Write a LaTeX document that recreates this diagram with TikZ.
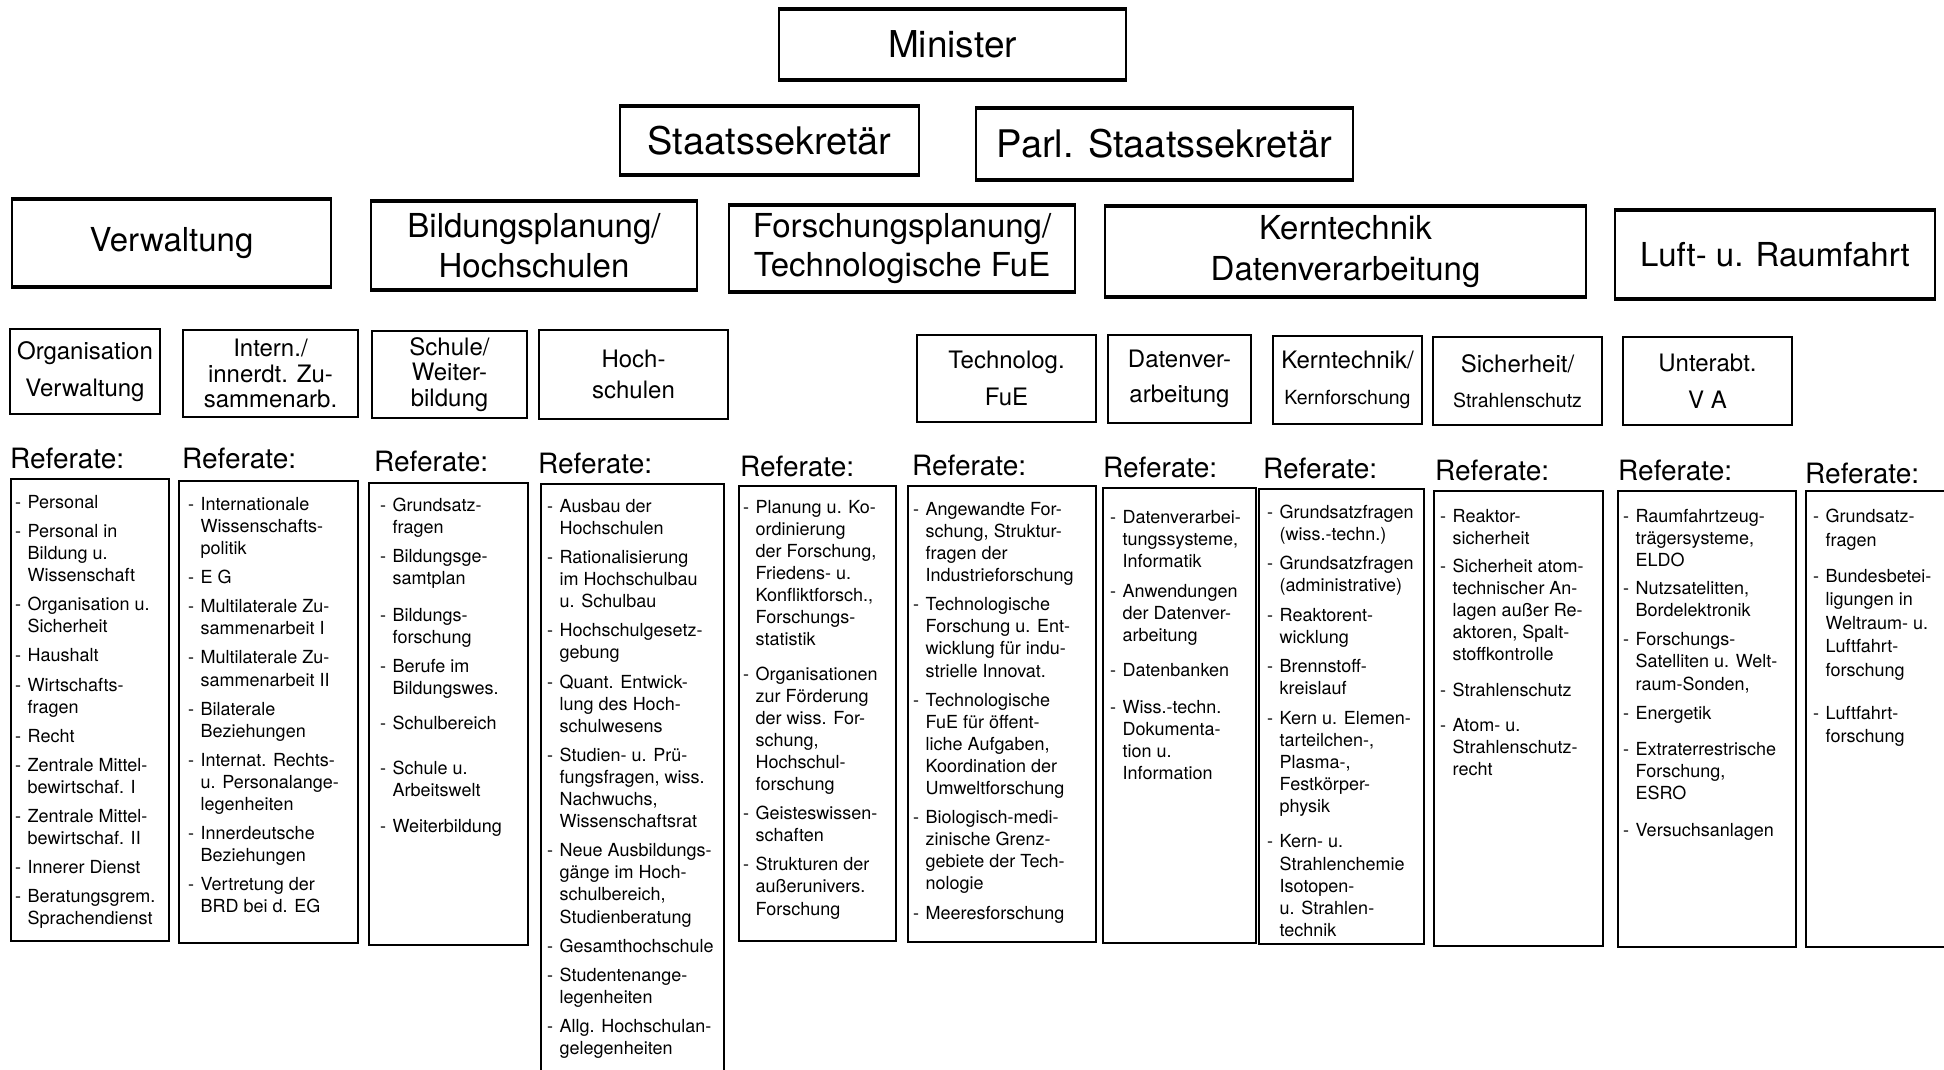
\documentclass[tikz,border=0pt]{standalone}
\usepackage{fontspec}
\setmainfont{TeX Gyre Heros}
\newlength\rfdash
\setlength\rfdash{12.5pt}
\newcommand\rfd{\makebox[\rfdash][l]{-}}
\newcommand\rfh{\hspace*{\rfdash}}
\newcommand\klein{\fontsize{19.5}{20}\selectfont}
\tikzset{
  leit/.style={draw, line width=2pt, inner sep=0pt, align=center,
    font=\fontsize{37}{40}\selectfont},
  abt/.style={draw, line width=2pt, inner sep=0pt, align=center,
    font=\fontsize{33}{39.5}\selectfont},
  uabt/.style={draw, line width=2pt, inner sep=0pt, align=center,
    font=\fontsize{24}{25.5}\selectfont},
  refbox/.style={draw, line width=2pt, inner sep=0pt, anchor=north west},
  reflabel/.style={inner sep=0pt, anchor=base west,
    font=\fontsize{28}{30}\selectfont},
  reflist/.style={inner sep=0pt, anchor=north west, align=left,
    font=\fontsize{18}{22.1}\selectfont},
  rand/.style={line width=3.5pt}
}
\begin{document}
\begin{tikzpicture}[x=1pt, y=-1pt]
  \useasboundingbox (0,0) rectangle (1944,1069);
  % Leitung
  \node[leit, minimum width=347pt, minimum height=69pt] (min) at (952.5,44.5) {Minister};
  \node[leit, font=\fontsize{38}{40}\selectfont, minimum width=299pt, minimum height=67pt] (st) at (769.5,140.5) {Staatssekret\"ar};
  \node[leit, font=\fontsize{38}{40}\selectfont, minimum width=377pt, minimum height=70pt] (pst) at (1164.5,144) {Parl. Staatssekret\"ar};
  % Abteilungen
  \node[abt, minimum width=319pt, minimum height=86pt] (a1) at (171.5,243) {Verwaltung};
  \node[abt, minimum width=326pt, minimum height=87pt] (a2) at (534,245.5) {Bildungsplanung/\\Hochschulen};
  \node[abt, minimum width=346pt, minimum height=85pt] (a3) at (902,248.5) {Forschungsplanung/\\Technologische FuE};
  \node[abt, font=\fontsize{33}{41}\selectfont, minimum width=481pt, minimum height=89pt] (a4) at (1345.5,251.5) {Kerntechnik\\Datenverarbeitung};
  \node[abt, minimum width=320pt, minimum height=87pt] (a5) at (1775,254.5) {Luft- u. Raumfahrt};
  \foreach \n in {min,st,pst,a1,a2,a3,a4,a5}
    \draw[rand] (\n.north west) -- (\n.north east) (\n.south west) -- (\n.south east);
  % Unterabteilungen
  \node[uabt, minimum width=150pt, minimum height=85pt] (u1) at (85,371.5) {Organisation\\[12pt]Verwaltung};
  \node[uabt, minimum width=175pt, minimum height=87pt] (u2) at (270.5,373.5) {Intern./\\innerdt. Zu-\\sammenarb.};
  \node[uabt, minimum width=155pt, minimum height=87pt] (u3) at (449.5,374.5) {Schule/\\Weiter-\\bildung};
  \node[uabt, minimum width=189pt, minimum height=89pt] (u4) at (633.5,374.5) {Hoch-\\[6pt]schulen};
  \node[uabt, minimum width=179pt, minimum height=87pt] (u5) at (1006.5,378.5) {Technolog.\\[11pt]FuE};
  \node[uabt, minimum width=143pt, minimum height=88pt] (u6) at (1179.5,379) {Datenver-\\[9pt]arbeitung};
  \node[uabt, minimum width=149pt, minimum height=88pt] (u7) at (1347.5,380) {Kerntechnik/\\[11pt]{\klein Kernforschung}};
  \node[uabt, minimum width=169pt, minimum height=88pt] (u8) at (1517.5,381) {Sicherheit/\\[9pt]{\klein Strahlenschutz}};
  \node[uabt, minimum width=169pt, minimum height=88pt] (u9) at (1707.5,381) {Unterabt.\\[12pt]V A};
  % Referate
  \path
    (10,468) node[reflabel] (h1){Referate:}
    (182,468) node[reflabel] (h2){Referate:}
    (374,471) node[reflabel] (h3){Referate:}
    (538,473) node[reflabel] (h4){Referate:}
    (740,476) node[reflabel] (h5){Referate:}
    (912,475) node[reflabel] (h6){Referate:}
    (1103,477) node[reflabel] (h7){Referate:}
    (1263,478) node[reflabel] (h8){Referate:}
    (1435,480) node[reflabel] (h9){Referate:}
    (1618,480) node[reflabel] (h10){Referate:}
    (1805,483) node[reflabel] (h11){Referate:};
  \node[refbox, minimum width=158pt, minimum height=462pt] (r1) at (10,478) {};
  \node[refbox, minimum width=179pt, minimum height=462pt] (r2) at (178,480) {};
  \node[refbox, minimum width=159pt, minimum height=462pt] (r3) at (368,482) {};
  \node[refbox, minimum width=183pt, minimum height=600pt] (r4) at (540,483) {};
  \node[refbox, minimum width=157pt, minimum height=455pt] (r5) at (738,485) {};
  \node[refbox, minimum width=188pt, minimum height=456pt] (r6) at (907,485) {};
  \node[refbox, minimum width=153pt, minimum height=455pt] (r7) at (1102,487) {};
  \node[refbox, minimum width=165pt, minimum height=455pt] (r8) at (1258,488) {};
  \node[refbox, minimum width=169pt, minimum height=455pt] (r9) at (1433,490) {};
  \node[refbox, minimum width=178pt, minimum height=456pt] (r10) at (1617,490) {};
  \node[refbox, minimum width=180pt, minimum height=456pt] (r11) at (1805,490) {};
  \node[reflist] (l1) at (15,495) {\rfd Personal\\[7pt]
    \rfd Personal in\\ \rfh Bildung u.\\ \rfh Wissenschaft\\[7pt]
    \rfd Organisation u.\\ \rfh Sicherheit\\[7pt]
    \rfd Haushalt\\[7pt]
    \rfd Wirtschafts-\\ \rfh fragen\\[7pt]
    \rfd Recht\\[7pt]
    \rfd Zentrale Mittel-\\ \rfh bewirtschaf. I\\[7pt]
    \rfd Zentrale Mittel-\\ \rfh bewirtschaf. II\\[7pt]
    \rfd Innerer Dienst\\[7pt]
    \rfd Beratungsgrem.\\ \rfh Sprachendienst};
  \node[reflist] (l2) at (188,497) {\rfd Internationale\\ \rfh Wissenschafts-\\ \rfh politik\\[7pt]
    \rfd E G\\[7pt]
    \rfd Multilaterale Zu-\\ \rfh sammenarbeit I\\[7pt]
    \rfd Multilaterale Zu-\\ \rfh sammenarbeit II\\[7pt]
    \rfd Bilaterale\\ \rfh Beziehungen\\[7pt]
    \rfd Internat. Rechts-\\ \rfh u. Personalange-\\ \rfh legenheiten\\[7pt]
    \rfd Innerdeutsche\\ \rfh Beziehungen\\[7pt]
    \rfd Vertretung der\\ \rfh BRD bei d. EG};
  \node[reflist] (l3) at (380,498) {\rfd Grundsatz-\\ \rfh fragen\\[7pt]
    \rfd Bildungsge-\\ \rfh samtplan\\[14.5pt]
    \rfd Bildungs-\\ \rfh forschung\\[7pt]
    \rfd Berufe im\\ \rfh Bildungswes.\\[13pt]
    \rfd Schulbereich\\[22pt]
    \rfd Schule u.\\ \rfh Arbeitswelt\\[14.5pt]
    \rfd Weiterbildung};
  \node[reflist] (l4) at (547,499) {\rfd Ausbau der\\ \rfh Hochschulen\\[7pt]
    \rfd Rationalisierung\\ \rfh im Hochschulbau\\ \rfh u. Schulbau\\[7pt]
    \rfd Hochschulgesetz-\\ \rfh gebung\\[7pt]
    \rfd Quant. Entwick-\\ \rfh lung des Hoch-\\ \rfh schulwesens\\[7pt]
    \rfd Studien- u. Pr\"u-\\ \rfh fungsfragen, wiss.\\ \rfh Nachwuchs,\\ \rfh Wissenschaftsrat\\[7pt]
    \rfd Neue Ausbildungs-\\ \rfh g\"ange im Hoch-\\ \rfh schulbereich,\\ \rfh Studienberatung\\[7pt]
    \rfd Gesamthochschule\\[7pt]
    \rfd Studentenange-\\ \rfh legenheiten\\[7pt]
    \rfd Allg. Hochschulan-\\ \rfh gelegenheiten};
  \node[reflist] (l5) at (743,500) {\rfd Planung u. Ko-\\ \rfh ordinierung\\ \rfh der Forschung,\\ \rfh Friedens- u.\\ \rfh Konfliktforsch.,\\ \rfh Forschungs-\\ \rfh statistik\\[12pt]
    \rfd Organisationen\\ \rfh zur F\"orderung\\ \rfh der wiss. For-\\ \rfh schung,\\ \rfh Hochschul-\\ \rfh forschung\\[7pt]
    \rfd Geisteswissen-\\ \rfh schaften\\[7pt]
    \rfd Strukturen der\\ \rfh au\ss eruniver\-s.\\ \rfh Forschung};
  \node[reflist] (l6) at (913,502) {\rfd Angewandte For-\\ \rfh schung, Struktur-\\ \rfh fragen der\\ \rfh Industrieforschung\\[7pt]
    \rfd Technologische\\ \rfh Forschung u. Ent-\\ \rfh wicklung f\"ur indu-\\ \rfh strielle Innovat.\\[7pt]
    \rfd Technologische\\ \rfh FuE f\"ur \"offent-\\ \rfh liche Aufgaben,\\ \rfh Koordination der\\ \rfh Umweltforschung\\[7pt]
    \rfd Biologisch-medi-\\ \rfh zinische Grenz-\\ \rfh gebiete der Tech-\\ \rfh nologie\\[7pt]
    \rfd Meeresforschung};
  \node[reflist] (l7) at (1110,510) {\rfd Datenverarbei-\\ \rfh tungssysteme,\\ \rfh Informatik\\[8pt]
    \rfd Anwendungen\\ \rfh der Datenver-\\ \rfh arbeitung\\[13pt]
    \rfd Datenbanken\\[14.5pt]
    \rfd Wiss.-techn.\\ \rfh Dokumenta-\\ \rfh tion u.\\ \rfh Information};
  \node[reflist] (l8) at (1267,505) {\rfd Grundsatzfragen\\ \rfh (wiss.-techn.)\\[7pt]
    \rfd Grundsatzfragen\\ \rfh (administrative)\\[7pt]
    \rfd Reaktorent-\\ \rfh wicklung\\[7pt]
    \rfd Brennstoff-\\ \rfh kreislauf\\[8pt]
    \rfd Kern u. Elemen-\\ \rfh tarteilchen-,\\ \rfh Plasma-,\\ \rfh Festk\"orper-\\ \rfh physik\\[13pt]
    \rfd Kern- u.\\ \rfh Strahlenchemie\\ \rfh Isotopen-\\ \rfh u. Strahlen-\\ \rfh technik};
  \node[reflist] (l9) at (1440,509) {\rfd Reaktor-\\ \rfh sicherheit\\[6pt]
    \rfd Sicherheit atom-\\ \rfh technischer An-\\ \rfh lagen au\ss er Re-\\ \rfh aktoren, Spalt-\\ \rfh stoffkontrolle\\[13pt]
    \rfd Strahlenschutz\\[13pt]
    \rfd Atom- u.\\ \rfh Strahlenschutz-\\ \rfh recht};
  \node[reflist] (l10) at (1623,509) {\rfd Raumfahrtzeug-\\ \rfh tr\"agersysteme,\\ \rfh ELDO\\[6pt]
    \rfd Nutzsatelitten,\\ \rfh Bordelektronik\\[7pt]
    \rfd Forschungs-\\ \rfh Satelliten u. Welt-\\ \rfh raum-Sonden,\\[7pt]
    \rfd Energetik\\[14.5pt]
    \rfd Extraterrestrische\\ \rfh Forschung,\\ \rfh ESRO\\[14.5pt]
    \rfd Versuchsanlagen};
  \node[reflist, font=\fontsize{18}{23.4}\selectfont] (l11) at (1813,509) {\rfd Grundsatz-\\ \rfh fragen\\[13pt]
    \rfd Bundesbetei-\\ \rfh ligungen in\\ \rfh Weltraum- u.\\ \rfh Luftfahrt-\\ \rfh forschung\\[20pt]
    \rfd Luftfahrt-\\ \rfh forschung};
\end{tikzpicture}
\end{document}
